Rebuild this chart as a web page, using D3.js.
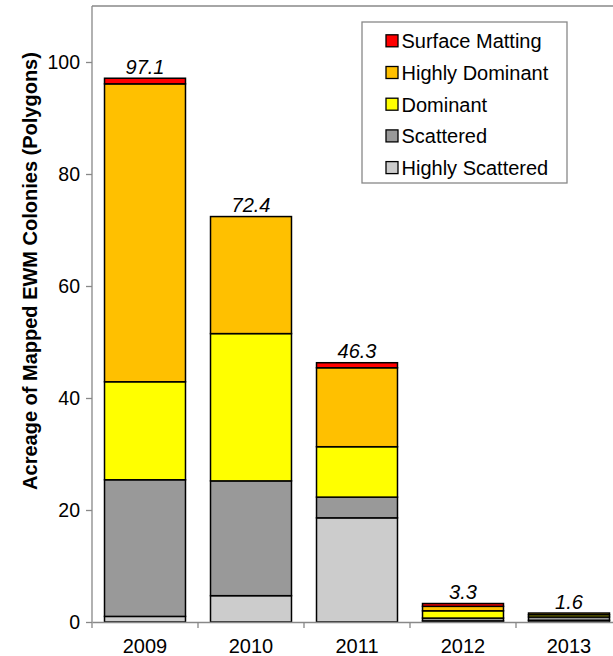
<!DOCTYPE html>
<html><head><meta charset="utf-8">
<script src="https://cdn.jsdelivr.net/npm/d3@7"></script>
<style>body{margin:0;background:#fff}svg{display:block;font-family:Arial,"Liberation Sans",sans-serif}</style>
</head><body><div id="chart"></div>
<script>
const years = ["2009","2010","2011","2012","2013"];
const seriesNames = ["Highly Scattered","Scattered","Dominant","Highly Dominant","Surface Matting"];
const highlyScattered = [1.0, 4.7, 18.6, 0.2, 0.3];
const scattered       = [24.4, 20.5, 3.7, 0.5, 0.6];
const dominant        = [17.5, 26.3, 9.0, 1.3, 0.4];
const highlyDominant  = [53.2, 20.9, 14.1, 0.8, 0.3];
const surfaceMatting  = [1.0, 0.0, 0.9, 0.5, 0.0];
const totals = ["97.1","72.4","46.3","3.3","1.6"];
const yTicks = [0,20,40,60,80,100];
const colors = ["#cccccc","#999999","#ffff00","#ffc000","#ff0000"];
const legendOrder = ["Surface Matting","Highly Dominant","Dominant","Scattered","Highly Scattered"];

const FONT = "Arial, 'Liberation Sans', sans-serif";
const W = 613, H = 656;
const m = {left:92, top:6, right:622, bottom:622};
const svg = d3.select("#chart").append("svg").attr("width",W).attr("height",H);

const x = d3.scaleBand().domain(years).range([m.left, m.right]).paddingInner(0.236).paddingOuter(0.118);
const y = d3.scaleLinear().domain([0,110]).range([m.bottom, m.top]);

const rows = years.map((yr,i)=>({year:yr, "Highly Scattered":highlyScattered[i], "Scattered":scattered[i], "Dominant":dominant[i], "Highly Dominant":highlyDominant[i], "Surface Matting":surfaceMatting[i]}));
const stack = d3.stack().keys(seriesNames)(rows);

// frame (top)
svg.append("line").attr("x1",m.left).attr("x2",m.right).attr("y1",m.top).attr("y2",m.top).attr("stroke","#888").attr("stroke-width",1.3);

// bars
stack.forEach((s,si)=>{
  svg.append("g").selectAll("rect").data(s.filter(d=>d[1]-d[0]>0)).join("rect")
    .attr("x",d=>x(d.data.year)).attr("width",x.bandwidth())
    .attr("y",d=>y(d[1])).attr("height",d=>y(d[0])-y(d[1]))
    .attr("fill",colors[si]).attr("stroke","#000").attr("stroke-width",1.5);
});

// y axis
const ya = svg.append("g").attr("transform",`translate(${m.left},0)`)
  .call(d3.axisLeft(y).tickValues(yTicks).tickSize(6).tickSizeOuter(0).tickPadding(6));
ya.select(".domain").attr("stroke","#888").attr("stroke-width",1.3).attr("d",`M0,${m.bottom}V${m.top}`);
ya.selectAll(".tick line").attr("stroke","#888").attr("stroke-width",1.3);
ya.selectAll("text").attr("font-size",19.5).attr("fill","#000").attr("font-family",FONT);

// x axis
const xa = svg.append("g").attr("transform",`translate(0,${m.bottom})`)
  .call(d3.axisBottom(x).tickSize(0).tickPadding(17));
xa.select(".domain").attr("stroke","#888").attr("stroke-width",1.3);
xa.selectAll("text").attr("font-size",20).attr("fill","#000").attr("font-family",FONT);
const step = x.step();
const bounds = d3.range(years.length+1).map(i=>m.left + i*step);
svg.append("g").selectAll("line").data(bounds).join("line")
  .attr("x1",d=>d).attr("x2",d=>d).attr("y1",m.bottom).attr("y2",m.bottom+6)
  .attr("stroke","#888").attr("stroke-width",1.3);

// totals
svg.append("g").selectAll("text").data(years).join("text")
  .attr("x",d=>x(d)+x.bandwidth()/2)
  .attr("y",(d,i)=>y(stack[stack.length-1][i][1])-4.5)
  .attr("text-anchor","middle").attr("font-size",20).attr("font-style","italic")
  .text((d,i)=>totals[i]);

// y title
svg.append("text").attr("transform",`translate(37,271) rotate(-90)`)
  .attr("text-anchor","middle").attr("font-size",20).attr("font-weight","bold")
  .text("Acreage of Mapped EWM Colonies (Polygons)");

// legend
const lg = svg.append("g");
lg.append("rect").attr("x",362).attr("y",22).attr("width",205).attr("height",161)
  .attr("fill","#fff").attr("stroke","#888").attr("stroke-width",1.3);
legendOrder.forEach((name,i)=>{
  const cy = 40.8 + i*31.7;
  const ci = seriesNames.indexOf(name);
  lg.append("rect").attr("x",386).attr("y",cy-6).attr("width",12).attr("height",12)
    .attr("fill",colors[ci]).attr("stroke","#000").attr("stroke-width",1.3);
  lg.append("text").attr("x",401.5).attr("y",cy+7.5).attr("font-size",20).text(name);
});
</script></body></html>
